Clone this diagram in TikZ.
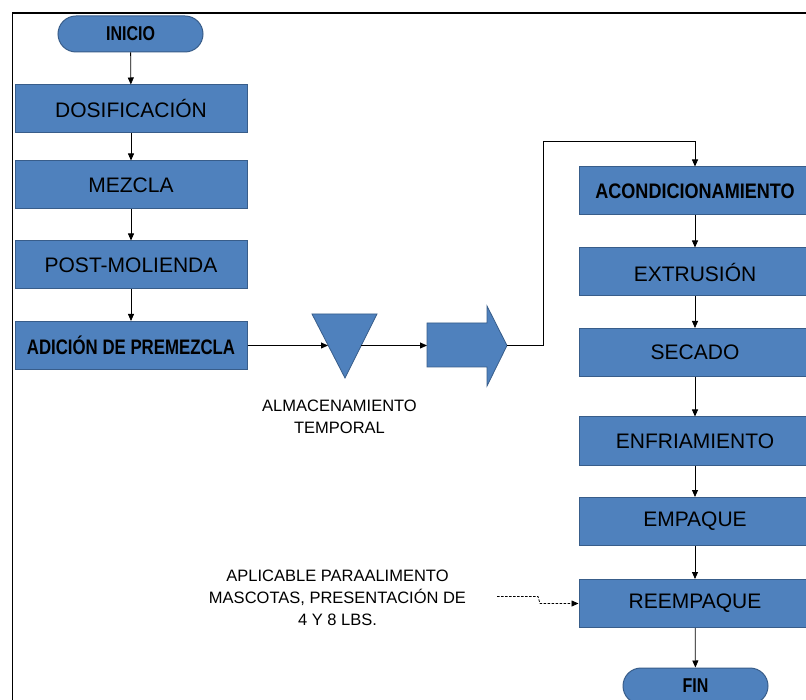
\documentclass[tikz,border=0pt]{standalone}
\usepackage{fontspec}
\setmainfont{Liberation Sans}
\newfontfamily\narrowbold[FakeStretch=0.8]{Liberation Sans}
\newfontfamily\semibold[FakeStretch=0.86]{Liberation Sans}
\usetikzlibrary{arrows.meta,shapes.misc}
\definecolor{boxblue}{HTML}{4F81BD}
\definecolor{boxedge}{HTML}{385D8A}
\tikzset{
  x=1pt, y=-1pt,
  procbox/.style={rectangle, draw=boxedge, line width=1pt, fill=boxblue,
    minimum width=232pt, minimum height=48pt, inner sep=0pt,
    font=\fontsize{21}{25}\selectfont, text=black},
  boldbox/.style={procbox, font=\narrowbold\bfseries\fontsize{21}{25}\selectfont},
  terminal/.style={rounded rectangle, draw=boxedge, line width=1pt, fill=boxblue,
    minimum width=145pt, minimum height=36pt, inner sep=0pt,
    font=\narrowbold\bfseries\fontsize{20}{24}\selectfont, text=black},
  note/.style={align=center, inner sep=0pt, font=\fontsize{16.5}{22}\selectfont},
  flow/.style={line width=0.8pt, -{Triangle[length=7pt,width=6pt]}},
  hint/.style={flow, dashed, dash pattern=on 2.5pt off 1.5pt}
}
\begin{document}
\begin{tikzpicture}
\clip (0,0) rectangle (806,700);
\fill[white] (0,0) rectangle (806,700);
% frame
\draw[line width=1.8pt] (12.5,700) -- (12.5,13) -- (806,13);

% left column
\node[terminal] (inicio) at (130.5,34) {INICIO};
\node[procbox] (dosif) at (131,109) {DOSIFICACIÓN};
\node[procbox] (mezcla) at (131,185) {MEZCLA};
\node[procbox] (post) at (131,265) {POST-MOLIENDA};
\node[boldbox] (adicion) at (131,345.5) {ADICIÓN DE PREMEZCLA};

\draw[flow] (inicio) -- (dosif);
\draw[flow] (dosif) -- (mezcla);
\draw[flow] (mezcla) -- (post);
\draw[flow] (post) -- (adicion);

% temporary storage (inverted triangle)
\fill[boxblue, draw=boxedge, line width=0.8pt] (312,314) -- (377,314) -- (345,378) -- cycle;
\coordinate (trileft) at (328,345.5);
\coordinate (triright) at (361,345.5);
\node[note] (almac) at (339.5,417) {ALMACENAMIENTO\\TEMPORAL};

% transport (block arrow)
\fill[boxblue, draw=boxedge, line width=0.8pt] (427,323) -- (487,323) -- (487,306)
  -- (507,345.5) -- (487,386) -- (487,367) -- (427,367) -- cycle;
\coordinate (arrowtail) at (427,345.5);
\coordinate (arrowhead) at (507,345.5);

\draw[flow] (adicion) -- (trileft);
\draw[flow] (triright) -- (arrowtail);

% right column
\node[boldbox, font=\semibold\bfseries\fontsize{21}{25}\selectfont] (acond) at (695,191) {ACONDICIONAMIENTO};
\node[procbox] (extr) at (695,272) {EXTRUSIÓN};
\node[procbox] (secado) at (695,352.5) {SECADO};
\node[procbox] (enfr) at (695,441) {ENFRIAMIENTO};
\node[procbox] (empaque) at (695,521.5) {EMPAQUE};
\node[procbox] (reemp) at (695,603.5) {REEMPAQUE};
\node[terminal] (fin) at (695.5,686) {FIN};

\coordinate (bend) at (695,141);
\draw[line width=0.8pt, -{Triangle[length=7pt,width=6pt]}] (arrowhead) -- ++(36,0) |- (bend) -- (acond);
\draw[flow] (acond) -- (extr);
\draw[flow] (extr) -- (secado);
\draw[flow] (secado) -- (enfr);
\draw[flow] (enfr) -- (empaque);
\draw[flow] (empaque) -- (reemp);
\draw[flow] (reemp) -- (fin);

% note on repacking
\node[note] (aplica) at (337.5,597.5) {APLICABLE PARAALIMENTO\\MASCOTAS, PRESENTACIÓN DE\\4 Y 8 LBS.};
\coordinate (hintstart) at (497,596.5);
\draw[hint] (hintstart) -- ++(41,0) -- ++(2,7) -- (reemp.west);
\end{tikzpicture}
\end{document}
